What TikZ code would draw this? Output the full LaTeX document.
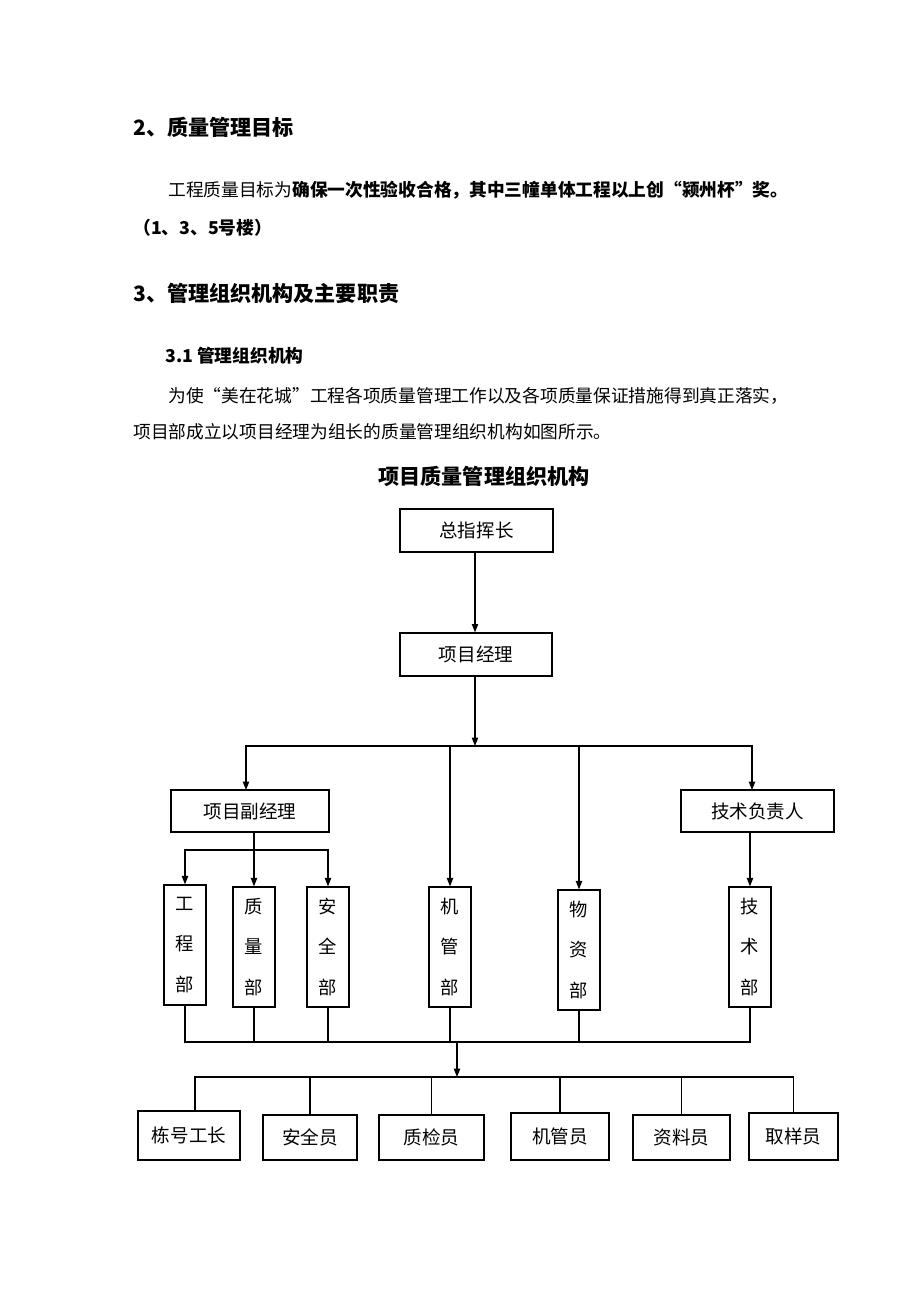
\documentclass[tikz,border=0pt]{standalone}
\usepackage{fontspec}
\newfontfamily\cjk{Noto Sans CJK SC}
\usetikzlibrary{arrows.meta}
\tikzset{
	box/.style={draw, line width=0.8pt, inner sep=0pt, font=\fontsize{13.2}{16}\cjk},
	vbox/.style={box, minimum width=1.05cm, minimum height=3cm, align=center, font=\fontsize{13}{28.5}\cjk},
	arr/.style={line width=0.8pt, -{Triangle[length=6pt,width=4.5pt]}},
	wire/.style={line width=0.8pt},
	txt/.style={anchor=west, inner sep=0pt, font=\fontsize{12.6}{15}\cjk},
	head/.style={anchor=west, inner sep=0pt, font=\fontsize{15}{18}\cjk\bfseries}
}

\begin{document}
\begin{tikzpicture}[x=0.025cm, y=-0.025cm]
			%%%%% START %%%%%
			
			\fill[white] (0, 0) rectangle (920, 1302);
			\useasboundingbox (0, 0) rectangle (920, 1302);
			
			% text above the chart
			\node[head] (h2) at (133, 127) {2、质量管理目标};
			\node[txt] (p1) at (168, 190) {工程质量目标为\textbf{确保一次性验收合格，其中三幢单体工程以上创“颍州杯”奖。}};
			\node[txt, font=\fontsize{12.6}{15}\cjk\bfseries] (p2) at (133, 228) {（1、3、5号楼）};
			\node[head] (h3) at (133, 293) {3、管理组织机构及主要职责};
			\node[txt, font=\fontsize{12.6}{15}\cjk\bfseries] (h31) at (165, 356) {3.1 管理组织机构};
			\node[txt] (p3) at (168, 396) {为使“美在花城”工程各项质量管理工作以及各项质量保证措施得到真正落实，};
			\node[txt] (p4) at (133, 432) {项目部成立以项目经理为组长的质量管理组织机构如图所示。};
			\node[head, anchor=center] (title) at (484, 476) {项目质量管理组织机构};
			
			% top of the chart
			\node[box, minimum width=3.825cm, minimum height=1.075cm] (zhz) at (476.5, 530.5) {总指挥长};
			\node[box, minimum width=3.8cm, minimum height=1.075cm] (xmjl) at (476, 654.5) {项目经理};
			\node[box, minimum width=3.95cm, minimum height=1.05cm] (fjl) at (250, 811) {项目副经理};
			\node[box, minimum width=3.825cm, minimum height=1.05cm] (jsfz) at (757.5, 811) {技术负责人};
			
			\coordinate (bus1) at (475, 746);
			\draw[arr] (zhz.south -| bus1) -- (xmjl.north -| bus1);
			\draw[arr] (xmjl.south -| bus1) -- (bus1);
			\draw[arr] (bus1) -| (246, 790);
			\draw[arr] (bus1) -| (752, 790);
			
			% departments
			\node[vbox] (gcb) at (185, 945) {工\\程\\部};
			\node[vbox] (zlb) at (254, 947) {质\\量\\部};
			\node[vbox] (aqb) at (328, 947) {安\\全\\部};
			\node[vbox] (jgb) at (450, 947) {机\\管\\部};
			\node[vbox] (wzb) at (579, 950) {物\\资\\部};
			\node[vbox] (jsb) at (750, 947) {技\\术\\部};
			
			\coordinate (sub) at (254, 850);
			\draw[arr] (sub |- fjl.south) -- (zlb.north);
			\draw[arr] (sub) -| (gcb.north);
			\draw[arr] (sub) -| (aqb.north);
			\draw[arr] (jgb.north |- bus1) -- (jgb.north);
			\draw[arr] (wzb.north |- bus1) -- (wzb.north);
			\draw[arr] (jsb.north |- jsfz.south) -- (jsb.north);
			
			% collecting line below the departments
			\coordinate (bus2) at (457, 1042);
			\draw[wire] (gcb.south) -- (gcb.south |- bus2) -- (jsb.south |- bus2) -- (jsb.south);
			\draw[wire] (zlb.south) -- (zlb.south |- bus2);
			\draw[wire] (aqb.south) -- (aqb.south |- bus2);
			\draw[wire] (jgb.south) -- (jgb.south |- bus2);
			\draw[wire] (wzb.south) -- (wzb.south |- bus2);
			
			\coordinate (bus3) at (457, 1077);
			\draw[arr] (bus2) -- (bus3);
			
			% staff
			\node[box, minimum width=2.55cm, minimum height=1.225cm] (dhgz) at (189, 1135.5) {栋号工长};
			\node[box, minimum width=2.35cm, minimum height=1.125cm] (aqy) at (310, 1137.5) {安全员};
			\node[box, minimum width=2.625cm, minimum height=1.125cm] (zjy) at (431.5, 1137.5) {质检员};
			\node[box, minimum width=2.45cm, minimum height=1.175cm] (jgy) at (560, 1136.5) {机管员};
			\node[box, minimum width=2.425cm, minimum height=1.125cm] (zly) at (681.5, 1137.5) {资料员};
			\node[box, minimum width=2.225cm, minimum height=1.175cm] (qyy) at (793.5, 1136.5) {取样员};
			
			\draw[wire] (dhgz.north -| 195, 0) -- (195, 1077) -- (qyy.north |- bus3) -- (qyy.north);
			\draw[wire] (aqy.north |- bus3) -- (aqy.north);
			\draw[wire] (zjy.north |- bus3) -- (zjy.north);
			\draw[wire] (jgy.north |- bus3) -- (jgy.north);
			\draw[wire] (zly.north |- bus3) -- (zly.north);
			
			%%%%% END %%%%%
\end{tikzpicture}
\end{document}
